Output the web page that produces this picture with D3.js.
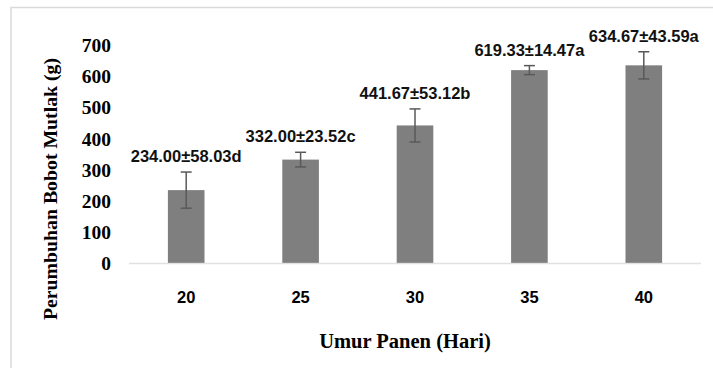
<!DOCTYPE html>
<html>
<head>
<meta charset="utf-8">
<script src="https://cdn.jsdelivr.net/npm/d3@7/dist/d3.min.js"></script>
<style>
  html, body { margin: 0; padding: 0; background: #fff; }
  svg { display: block; }
</style>
</head>
<body>
<svg id="chart" width="713" height="368"></svg>
<script>
// Harvest age (days) and absolute weight gain (g) with standard deviations
const categories = ["20", "25", "30", "35", "40"];
const means = [234.00, 332.00, 441.67, 619.33, 634.67];
const errors = [58.03, 23.52, 53.12, 14.47, 43.59];
const letters = ["d", "c", "b", "a", "a"];
const yTicks = [0, 100, 200, 300, 400, 500, 600, 700];

const svg = d3.select("#chart");
const W = 713, H = 368;
const plot = { left: 129, right: 701, top: 45, bottom: 263 };

// outer chart frame
svg.append("rect")
  .attr("x", 11).attr("y", 7.5)
  .attr("width", W + 10).attr("height", H + 10)
  .attr("fill", "#fff")
  .attr("stroke", "#d9d9d9").attr("stroke-width", 1.5);

const x = d3.scaleBand()
  .domain(categories)
  .range([plot.left, plot.right])
  .paddingInner(0.68)
  .paddingOuter(0.34);

const y = d3.scaleLinear()
  .domain([0, 700])
  .range([plot.bottom, plot.top]);

// y axis tick labels (no line, no tick marks)
const yAxis = d3.axisLeft(y).tickValues(yTicks).tickSize(0).tickPadding(0);
const gy = svg.append("g").attr("transform", "translate(111,0)").call(yAxis);
gy.select(".domain").remove();
gy.selectAll("text")
  .attr("font-family", "'Liberation Serif', 'Times New Roman', serif")
  .attr("font-weight", "bold")
  .attr("font-size", 19.5)
  .attr("fill", "#000")
  .attr("dy", "0.34em");

// bars
const rows = categories.map((c, i) => ({ c, m: means[i], e: errors[i], l: letters[i] }));

svg.append("g").selectAll("rect")
  .data(rows)
  .join("rect")
  .attr("x", d => x(d.c))
  .attr("y", d => y(d.m))
  .attr("width", x.bandwidth())
  .attr("height", d => y(0) - y(d.m))
  .attr("fill", "#7f7f7f");

// baseline at zero
svg.append("line")
  .attr("x1", plot.left).attr("x2", plot.right)
  .attr("y1", y(0) + 0.5).attr("y2", y(0) + 0.5)
  .attr("stroke", "#d9d9d9").attr("stroke-opacity", 0.8)
  .attr("stroke-width", 1.5);

// x axis tick labels
const xAxis = d3.axisBottom(x).tickSize(0).tickPadding(0);
const gx = svg.append("g").attr("transform", "translate(0,303)").call(xAxis);
gx.select(".domain").remove();
gx.selectAll("text")
  .attr("font-family", "'Liberation Sans', Arial, sans-serif")
  .attr("font-weight", "bold")
  .attr("font-size", 16.5)
  .attr("fill", "#000")
  .attr("dy", 0);

// error bars
const cap = 5.5;
const eg = svg.append("g").attr("stroke", "#595959").attr("stroke-width", 1.5).attr("fill", "none");
rows.forEach(d => {
  const cx = x(d.c) + x.bandwidth() / 2;
  const hi = y(d.m + d.e), lo = y(d.m - d.e);
  eg.append("line").attr("x1", cx).attr("x2", cx).attr("y1", hi).attr("y2", lo);
  eg.append("line").attr("x1", cx - cap).attr("x2", cx + cap).attr("y1", hi).attr("y2", hi);
  eg.append("line").attr("x1", cx - cap).attr("x2", cx + cap).attr("y1", lo).attr("y2", lo);
});

// value labels: mean ± SD with significance letter
svg.append("g").selectAll("text")
  .data(rows)
  .join("text")
  .attr("x", d => x(d.c) + x.bandwidth() / 2)
  .attr("y", d => y(d.m + d.e) - 10)
  .attr("text-anchor", "middle")
  .attr("font-family", "'Liberation Sans', Arial, sans-serif")
  .attr("font-weight", "bold")
  .attr("font-size", 16.5)
  .attr("fill", "#111")
  .text(d => d.m.toFixed(2) + "±" + d.e.toFixed(2) + d.l);

// axis titles
svg.append("text")
  .attr("x", 405)
  .attr("y", 348)
  .attr("text-anchor", "middle")
  .attr("font-family", "'Liberation Serif', 'Times New Roman', serif")
  .attr("font-weight", "bold")
  .attr("font-size", 20.5)
  .text("Umur Panen (Hari)");

svg.append("text")
  .attr("transform", "translate(57,189) rotate(-90)")
  .attr("text-anchor", "middle")
  .attr("font-family", "'Liberation Serif', 'Times New Roman', serif")
  .attr("font-weight", "bold")
  .attr("font-size", 19.8)
  .text("Perumbuhan Bobot Mutlak (g)");
</script>
</body>
</html>
